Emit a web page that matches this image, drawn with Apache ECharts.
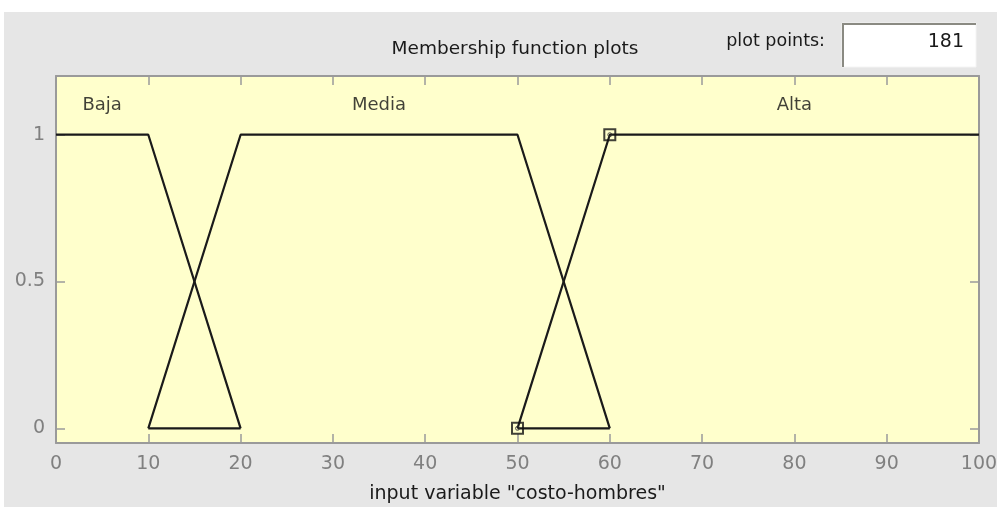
<!DOCTYPE html>
<html lang="en">
<head>
    <meta charset="UTF-8">
    <title>Membership function plots</title>
    <script src="https://cdn.jsdelivr.net/npm/echarts@6/dist/echarts.min.js"></script>
    <style>
        html, body { margin: 0; padding: 0; background: #fff; }
        #main {
            width: 997px; height: 507px;
            background: linear-gradient(#e6e6e6, #e6e6e6) no-repeat 4px 12px / 993px 495px, #fff;
        }
    </style>
</head>
<body>
<div id="main"></div>
<script>
    // membership functions of "costo-hombres" (trapmf params a b c d)
    var mfNames = ['Baja', 'Media', 'Alta'];
    var mfParams = [
        [0, 0, 10, 20],
        [10, 20, 50, 60],
        [50, 60, 100, 100]
    ];
    var zeroSegments = [[10, 20], [50, 60]];   // visible base lines at 0
    var selectedMf = 2;                          // Alta is selected in the editor
    var xTicks = [0, 10, 20, 30, 40, 50, 60, 70, 80, 90, 100];
    var yTicks = [0, 0.5, 1];
    var plotPoints = 181;
    var varName = 'costo-hombres';

    var font = 'DejaVu Sans';
    var lineColor = '#1a1a1a';

    function trapPoints(p) {
        var pts = [];
        if (p[0] < p[1]) pts.push([p[0], 0]);
        pts.push([p[1], 1]);
        pts.push([p[2], 1]);
        if (p[2] < p[3]) pts.push([p[3], 0]);
        return pts;
    }

    var series = [];
    mfParams.forEach(function (p, i) {
        series.push({
            name: mfNames[i],
            type: 'line',
            data: trapPoints(p),
            symbol: 'none',
            lineStyle: { color: lineColor, width: 2.2 },
            silent: true
        });
    });
    zeroSegments.forEach(function (s) {
        series.push({
            type: 'line',
            data: [[s[0], 0], [s[1], 0]],
            symbol: 'none',
            lineStyle: { color: lineColor, width: 2.2 },
            silent: true
        });
    });
    // names above each plateau
    series.push({
        type: 'scatter',
        symbolSize: 0,
        data: mfParams.map(function (p, i) {
            return { value: [(p[1] + p[2]) / 2, 1.1], name: mfNames[i] };
        }),
        label: {
            show: true, position: 'inside', formatter: '{b}',
            color: '#111', fontFamily: font, fontSize: 18
        },
        silent: true
    });
    // editable vertices of the selected MF
    var sel = mfParams[selectedMf];
    var handles = [[sel[0], 0], [sel[1], 1]];
    series.push({
        type: 'scatter',
        symbol: 'rect',
        symbolSize: 11,
        data: handles,
        itemStyle: { color: 'rgba(0,0,0,0)', borderColor: '#111', borderWidth: 2 },
        z: 5,
        silent: true
    });
    series.push({
        type: 'scatter',
        symbol: 'circle',
        symbolSize: 4,
        data: handles,
        itemStyle: { color: 'rgba(0,0,0,0)', borderColor: '#333', borderWidth: 1 },
        z: 5,
        silent: true
    });

    var axisLine = { show: true, onZero: false, lineStyle: { color: '#9a9a9a', width: 2 } };
    var tickStyle = { show: true, inside: true, length: 9, lineStyle: { color: '#9a9a9a', width: 1.5 } };
    var tickLabel = { color: '#808080', fontFamily: font, fontSize: 19 };

    var myChart = echarts.init(document.getElementById('main'));
    var option = {
        animation: false,
        grid: {
            left: 56, top: 76, width: 923, height: 367,
            outerBoundsMode: 'none', containLabel: false,
            show: true, backgroundColor: '#ffffcc', borderWidth: 0
        },
        graphic: [
            {
                type: 'text',
                style: {
                    text: 'Membership function plots', x: 515, y: 49,
                    fill: '#1a1a1a', font: '18.5px "' + font + '"',
                    align: 'center', verticalAlign: 'middle'
                }
            },
            {
                type: 'text',
                style: {
                    text: 'plot points:', x: 825, y: 41,
                    fill: '#1a1a1a', font: '17.5px "' + font + '"',
                    align: 'right', verticalAlign: 'middle'
                }
            },
            {
                type: 'rect',
                shape: { x: 842, y: 23, width: 134, height: 44 },
                style: { fill: '#fff', stroke: '#f4f4f4', lineWidth: 1 }
            },
            {
                type: 'polyline',
                shape: { points: [[843, 67], [843, 24], [976, 24]] },
                style: { stroke: '#8a8a82', lineWidth: 2, fill: null }
            },
            {
                type: 'text',
                style: {
                    text: String(plotPoints), x: 964, y: 42,
                    fill: '#1a1a1a', font: '19px "' + font + '"',
                    align: 'right', verticalAlign: 'middle'
                }
            }
        ],
        xAxis: [
            {
                type: 'value', position: 'bottom', min: 0, max: 100, interval: 10,
                name: 'input variable "' + varName + '"',
                nameLocation: 'middle', nameGap: 42,
                nameTextStyle: { color: '#1a1a1a', fontFamily: font, fontSize: 19 },
                axisLine: axisLine, axisTick: tickStyle,
                axisLabel: Object.assign({ margin: 12, customValues: xTicks }, tickLabel),
                splitLine: { show: false }
            },
            {
                type: 'value', position: 'top', min: 0, max: 100, interval: 10,
                axisLine: axisLine, axisTick: tickStyle,
                axisLabel: { show: false }, splitLine: { show: false }
            }
        ],
        yAxis: [
            {
                type: 'value', position: 'left', min: -0.05, max: 1.2,
                axisLine: axisLine,
                axisTick: Object.assign({ customValues: yTicks }, tickStyle),
                axisLabel: Object.assign({ margin: 11, customValues: yTicks }, tickLabel),
                splitLine: { show: false }
            },
            {
                type: 'value', position: 'right', min: -0.05, max: 1.2,
                axisLine: axisLine,
                axisTick: Object.assign({ customValues: yTicks }, tickStyle),
                axisLabel: { show: false }, splitLine: { show: false }
            }
        ],
        series: series
    };
    myChart.setOption(option);
</script>
</body>
</html>
